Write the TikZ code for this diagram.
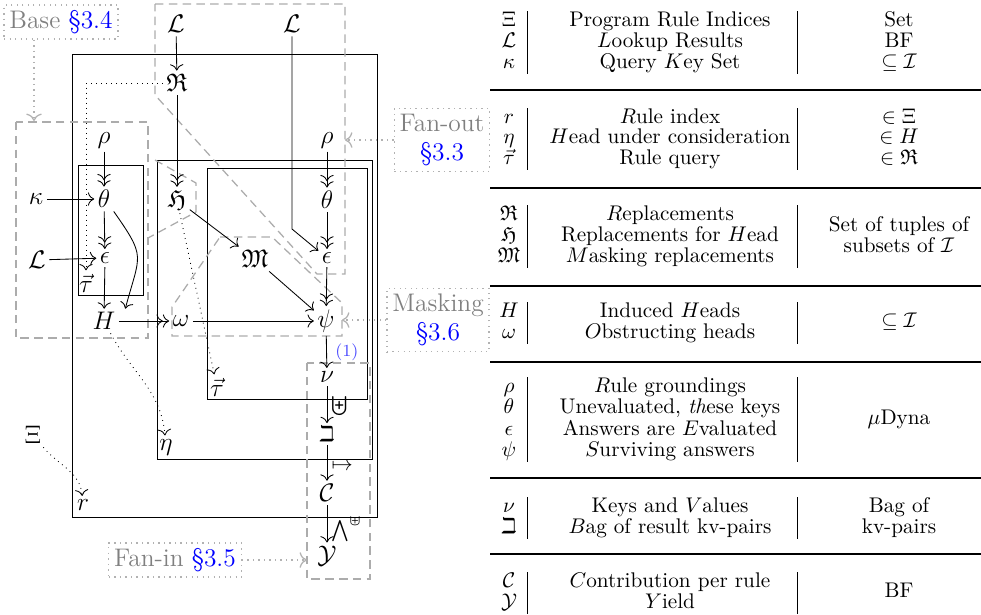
\documentclass[tikz,border=0pt]{standalone}
\usepackage{amssymb}
\usetikzlibrary{arrows.meta}
\begin{document}
\begin{tikzpicture}[x=0.4717pt,y=-0.4717pt, >={To[scale=1.2]},
 sym/.style={font=\large, inner sep=1.5pt},
 cell/.style={inner sep=0pt, text height=6.8pt, text depth=1.8pt},
 region/.style={draw=gray!65, dash pattern=on 4pt off 2.5pt, line width=0.6pt},
 lblbox/.style={draw=gray!60, dotted, line width=0.6pt, font=\large, align=center, inner sep=2.5pt, text=gray},
 ptr/.style={->, draw=gray!60, dotted, line width=0.6pt},
 dotarr/.style={->, dotted},
 sarr/.style={->},
 darr/.style={->>},
 tabrule/.style={line width=0.7pt},
 lab/.style={anchor=west, inner sep=1pt},
]
\useasboundingbox (0,0) rectangle (981,614);

% solid boxes
\draw (72,54) rectangle (377,517);
\draw (78,165) rectangle (143,295);
\draw (157,160) rectangle (372,459);
\draw (207,168) rectangle (367,399);

% dashed regions
\draw[region] (16,122) rectangle (148,338);
\draw[region] (155,4) -- (345,4) -- (345,274) -- (317,274) -- (155,95) -- cycle;
\draw[region] (155,160) -- (196,183) -- (196,212) -- (148,238);
\draw[region] (220,237) -- (272,237) -- (342,303) -- (342,336) -- (172,336) -- (172,307) -- cycle;
\draw[region] (307,363) rectangle (370,579);

% nodes
\node[sym] (L1) at (176,24) {$\mathcal{L}$};
\node[sym] (R) at (177,83) {$\mathfrak{R}$};
\node[sym] (L2) at (292,24) {$\mathcal{L}$};
\node[sym] (rhoL) at (104,140) {$\rho$};
\node[sym] (thL) at (104,199) {$\theta$};
\node[sym] (kap) at (36,199) {$\kappa$};
\node[sym] (epL) at (105,258) {$\epsilon$};
\node[sym] (L3) at (37,260) {$\mathcal{L}$};
\node[sym] (tauL) at (86,283) {$\vec{\tau}$};
\node[sym] (H) at (104,321) {$H$};
\node[sym] (om) at (181,321) {$\omega$};
\node[sym] (HH) at (177,200) {$\mathfrak{H}$};
\node[sym] (MM) at (255,259) {$\mathfrak{M}$};
\node[sym] (rhoR) at (327,140) {$\rho$};
\node[sym] (thR) at (327,200) {$\theta$};
\node[sym] (epR) at (327,258) {$\epsilon$};
\node[sym] (psi) at (326,321) {$\psi$};
\node[sym] (nu) at (327,377) {$\nu$};
\node[sym, font=\normalsize] (beth) at (327,434) {$\beth$};
\node[sym] (C) at (327,493) {$\mathcal{C}$};
\node[sym] (Y) at (327,556) {$\mathcal{Y}$};
\node[sym] (tauM) at (217,387) {$\vec{\tau}$};
\node[sym] (eta) at (166,447) {$\eta$};
\node[sym] (Xi) at (33,435) {$\Xi$};
\node[sym] (r) at (83,505) {$r$};

% connectors
\draw[sarr] (L1) -- (R);
\draw[darr] (R) -- (HH);
\draw[dotarr] (R.west) -| (tauL.north);
\coordinate (Lbend) at (292,229);
\draw[sarr] (L2) -- (Lbend) -- (epR);
\draw[darr] (rhoL) -- (thL);
\draw[darr] (thL) -- (epL);
\draw[sarr] (epL) -- (H);
\draw[sarr] (kap) -- (thL);
\draw[sarr] (L3) -- (epL);
\draw[sarr] (thL.south east) to[out=-55,in=75,looseness=1.5] ([xshift=3pt]H.north east);
\draw[darr] (H) -- (om);
\draw[sarr] (om) -- (psi);
\draw[sarr] (HH) -- (MM);
\draw[sarr] (MM) -- (psi);
\draw[darr] (rhoR) -- (thR);
\draw[darr] (thR) -- (epR);
\draw[darr] (epR) -- (psi);
\draw[dotarr] (HH) -- (tauM);
\draw[dotarr] (H) to[out=-62,in=95] (eta);
\draw[dotarr] (Xi) to[out=-50,in=95] (r);
\draw[sarr] (psi) -- node[lab, pos=0.5, xshift=3pt, font=\footnotesize, text=blue!70] {(1)} (nu);
\draw[sarr] (nu) -- node[lab, pos=0.55, xshift=1pt, font=\small] {$\biguplus$} (beth);
\draw[sarr] (beth) -- node[lab, pos=0.6, xshift=1pt] {$\mapsto$} (C);
\draw[sarr] (C) -- node[lab, pos=0.65, xshift=1pt] {$\bigwedge^{\uplus}$} (Y);

% labels
\node[lblbox] (baseL) at (61,22) {Base \textcolor{blue}{\S3.4}};
\coordinate (baseTip) at (34,121);
\draw[ptr] (baseL.south -| baseTip) -- (baseTip);
\node[lblbox] (fo) at (442,140) {Fan-out\\\textcolor{blue}{\S3.3}};
\coordinate (foTip) at (345,140);
\draw[ptr] (fo.west) -- (foTip);
\node[lblbox] (mk) at (438,320) {Masking\\\textcolor{blue}{\S3.6}};
\coordinate (mkTip) at (342,320);
\draw[ptr] (mk.west) -- (mkTip);
\node[lblbox] (fi) at (175,560) {Fan-in \textcolor{blue}{\S3.5}};
\coordinate (fiTip) at (307,560);
\draw[ptr] (fi.east) -- (fiTip);

% table rules
\foreach \yy in {90,188,286,362,478,554} \draw[tabrule] (490,\yy) -- (981,\yy);
% bars
\foreach \ya/\yb in {11/74,108/170,205/268,302/344,377/462,497/539,572/614} {
  \draw (527,\ya) -- (527,\yb);
  \draw (797,\ya) -- (797,\yb);
}
% group 1
\node[cell] (s1) at (509,21) {$\Xi$};
\node[cell] (m1) at (670,21) {Program Rule Indices};
\node[cell] (t1) at (899,21) {Set};
\node[cell] (s2) at (509,42) {$\mathcal{L}$};
\node[cell] (m2) at (670,42) {$L$ookup Results};
\node[cell] (t2) at (899,42) {BF};
\node[cell] (s3) at (509,63) {$\kappa$};
\node[cell] (m3) at (670,63) {Query $K$ey Set};
\node[cell] (t3) at (899,63) {$\subseteq\mathcal{I}$};
% group 2
\node[cell] (s4) at (509,118) {$r$};
\node[cell] (m4) at (670,118) {$R$ule index};
\node[cell] (t4) at (899,118) {$\in\Xi$};
\node[cell] (s5) at (509,138) {$\eta$};
\node[cell] (m5) at (670,138) {$H$ead under consideration};
\node[cell] (t5) at (899,138) {$\in H$};
\node[cell] (s6) at (509,159) {$\vec{\tau}$};
\node[cell] (m6) at (670,159) {Rule query};
\node[cell] (t6) at (899,159) {$\in\mathfrak{R}$};
% group 3
\node[cell] (s7) at (509,215) {$\mathfrak{R}$};
\node[cell] (m7) at (670,215) {$R$eplacements};
\node[cell] (s8) at (509,236) {$\mathfrak{H}$};
\node[cell] (m8) at (670,236) {Replacements for $H$ead};
\node[cell] (s9) at (509,257) {$\mathfrak{M}$};
\node[cell] (m9) at (670,257) {$M$asking replacements};
\node[cell] (t7) at (899,226) {Set of tuples of};
\node[cell] (t8) at (899,247) {subsets of $\mathcal{I}$};
% group 4
\node[cell] (s10) at (509,312) {$H$};
\node[cell] (m10) at (670,312) {Induced $H$eads};
\node[cell] (s11) at (509,333) {$\omega$};
\node[cell] (m11) at (670,333) {$O$bstructing heads};
\node[cell] (t10) at (899,322) {$\subseteq\mathcal{I}$};
% group 5
\node[cell] (s12) at (509,387) {$\rho$};
\node[cell] (m12) at (670,387) {$R$ule groundings};
\node[cell] (s13) at (509,408) {$\theta$};
\node[cell] (m13) at (670,408) {Unevaluated, \textit{th}ese keys};
\node[cell] (s14) at (509,430) {$\epsilon$};
\node[cell] (m14) at (670,430) {Answers are $E$valuated};
\node[cell] (s15) at (509,451) {$\psi$};
\node[cell] (m15) at (670,451) {$S$urviving answers};
\node[cell] (t12) at (899,419) {$\mu$Dyna};
% group 6
\node[cell] (s16) at (509,507) {$\nu$};
\node[cell] (m16) at (670,507) {Keys and $V$alues};
\node[cell] (t16) at (899,507) {Bag of};
\node[cell] (s17) at (509,528) {$\beth$};
\node[cell] (m17) at (670,528) {$B$ag of result kv-pairs};
\node[cell] (t17) at (899,528) {kv-pairs};
% group 7
\node[cell] (s18) at (509,582) {$\mathcal{C}$};
\node[cell] (m18) at (670,582) {$C$ontribution per rule};
\node[cell] (s19) at (509,603) {$\mathcal{Y}$};
\node[cell] (m19) at (670,603) {$Y$ield};
\node[cell] (t18) at (899,592) {BF};
\end{tikzpicture}
\end{document}
